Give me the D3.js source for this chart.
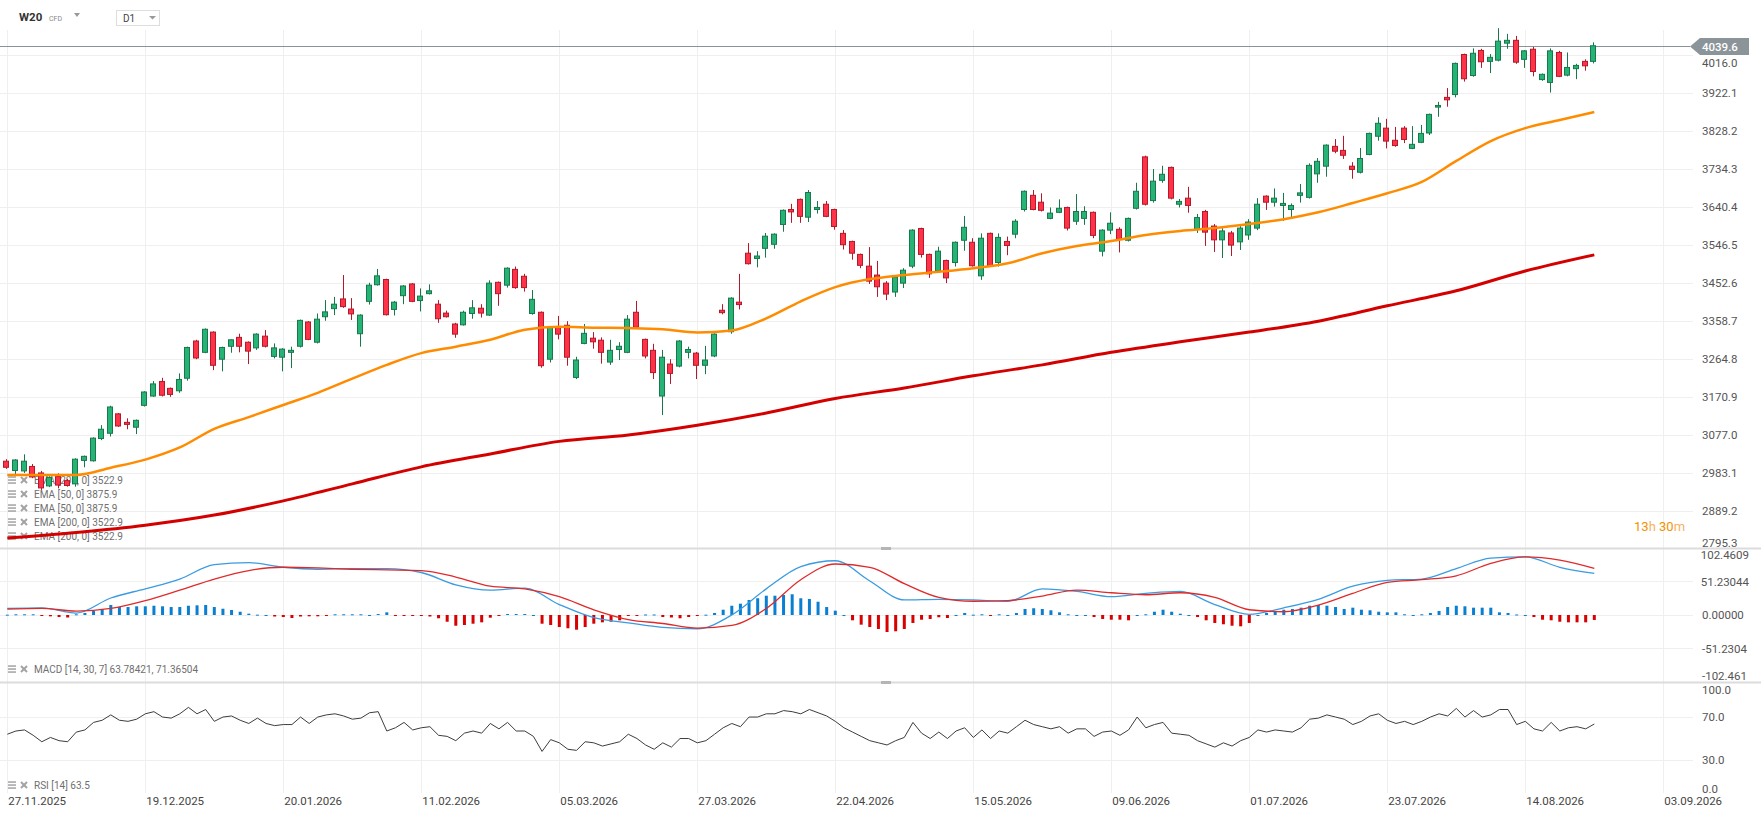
<!DOCTYPE html>
<html>
<head>
<meta charset="utf-8">
<script src="https://cdn.jsdelivr.net/npm/d3@7"></script>
<style>
  html, body { margin: 0; padding: 0; background: #fff; }
  svg { display: block; font-family: Roboto, "Noto Sans", sans-serif; }
</style>
</head>
<body>
<svg id="chart"></svg>
<script>
// W20 CFD, daily candles 27.11.2025 - 26.08.2026
const open = [
  3013,2990,2989,3000,2984,2952,2975,2965,2957,3015,
  3014,3069,3082,3130,3109,3097,3151,3174,3210,3193,
  3187,3218,3310,3282,3332,3265,3297,3319,3307,3293,
  3322,3272,3270,3282,3297,3357,3307,3370,3390,3414,
  3389,3328,3408,3449,3462,3388,3422,3451,3410,3427,
  3401,3379,3352,3350,3378,3391,3374,3455,3448,3487,
  3470,3378,3381,3265,3345,3349,3220,3304,3317,3312,
  3258,3289,3282,3381,3314,3287,3174,3253,3248,3282,
  3280,3250,3273,3386,3333,3406,3527,3514,3539,3549,
  3598,3635,3660,3616,3635,3648,3635,3576,3556,3524,
  3495,3473,3453,3431,3453,3495,3588,3524,3483,3509,
  3504,3559,3554,3471,3576,3504,3556,3574,3635,3670,
  3653,3613,3628,3640,3606,3613,3628,3532,3584,3586,
  3559,3638,3765,3657,3707,3739,3648,3663,3587,3630,
  3594,3560,3577,3555,3572,3589,3668,3653,3645,3635,
  3670,3665,3723,3742,3791,3781,3742,3727,3771,3816,
  3836,3806,3836,3786,3801,3824,3888,3912,3919,4018,
  3966,4028,4001,4004,4046,4053,4006,4031,3956,3949,
  4023,3967,3983,4001,4001
];
const high = [
  3018,3018,3030,3006,2989,2976,2983,2969,3020,3027,
  3072,3102,3150,3132,3119,3116,3186,3211,3219,3195,
  3230,3296,3313,3341,3334,3296,3314,3328,3309,3329,
  3337,3304,3292,3296,3363,3359,3378,3411,3419,3473,
  3416,3376,3454,3488,3464,3409,3448,3453,3440,3450,
  3411,3385,3355,3385,3411,3401,3460,3457,3492,3494,
  3476,3436,3383,3347,3372,3359,3271,3352,3332,3319,
  3313,3307,3374,3409,3316,3303,3288,3265,3312,3296,
  3283,3298,3329,3401,3418,3476,3552,3532,3577,3576,
  3635,3649,3662,3683,3656,3656,3637,3584,3558,3526,
  3542,3508,3458,3471,3490,3586,3590,3526,3543,3511,
  3556,3619,3564,3576,3578,3576,3568,3611,3682,3683,
  3675,3640,3660,3642,3673,3643,3630,3586,3628,3591,
  3615,3701,3768,3735,3743,3741,3661,3691,3624,3634,
  3599,3589,3582,3594,3611,3663,3670,3687,3676,3650,
  3698,3749,3762,3796,3809,3817,3752,3787,3825,3863,
  3859,3839,3841,3841,3844,3872,3901,3935,3998,4020,
  4033,4032,4019,4083,4069,4064,4029,4037,3971,4033,
  4027,4023,3995,4006,4048
];
const low = [
  2994,2981,2984,2971,2942,2949,2946,2950,2950,2998,
  3012,3065,3074,3098,3092,3080,3148,3172,3173,3172,
  3182,3212,3265,3280,3238,3235,3281,3282,3253,3288,
  3294,3267,3235,3243,3294,3312,3304,3360,3374,3392,
  3362,3296,3400,3447,3373,3373,3401,3406,3383,3425,
  3355,3368,3318,3348,3365,3368,3372,3397,3442,3439,
  3432,3375,3244,3257,3314,3249,3216,3302,3291,3254,
  3251,3263,3280,3341,3267,3216,3127,3204,3245,3267,
  3216,3228,3270,3376,3328,3388,3499,3492,3516,3538,
  3580,3602,3602,3604,3625,3616,3585,3536,3511,3490,
  3451,3419,3411,3419,3441,3490,3516,3466,3480,3453,
  3494,3533,3494,3461,3494,3494,3522,3564,3630,3633,
  3630,3611,3626,3583,3597,3597,3564,3519,3574,3529,
  3556,3635,3645,3652,3701,3660,3640,3627,3577,3545,
  3530,3515,3520,3535,3560,3584,3634,3642,3607,3614,
  3652,3662,3701,3716,3774,3760,3711,3724,3769,3805,
  3786,3790,3799,3784,3799,3819,3864,3889,3912,3951,
  3963,3985,3972,4001,4032,3995,3985,3964,3953,3924,
  3962,3964,3957,3978,3996
];
const close = [
  2998,3016,3013,2974,2947,2973,2954,2953,3018,3025,
  3070,3092,3147,3100,3104,3114,3184,3204,3176,3178,
  3215,3294,3268,3339,3250,3294,3313,3297,3285,3327,
  3297,3293,3290,3287,3361,3314,3364,3382,3401,3395,
  3377,3374,3448,3471,3375,3406,3446,3408,3421,3434,
  3365,3370,3327,3381,3392,3379,3453,3427,3490,3442,
  3442,3413,3249,3345,3327,3270,3263,3329,3308,3282,
  3287,3297,3364,3344,3273,3232,3270,3230,3310,3289,
  3250,3263,3327,3380,3416,3400,3501,3520,3569,3574,
  3633,3629,3618,3677,3640,3618,3593,3548,3527,3497,
  3458,3444,3426,3468,3485,3584,3524,3476,3532,3466,
  3554,3591,3496,3564,3496,3566,3546,3606,3680,3635,
  3633,3626,3638,3589,3630,3630,3571,3584,3601,3561,
  3613,3680,3648,3705,3722,3663,3655,3645,3615,3579,
  3560,3582,3547,3589,3604,3648,3653,3663,3650,3645,
  3676,3744,3754,3794,3779,3769,3734,3761,3823,3848,
  3804,3793,3808,3796,3823,3870,3892,3906,3996,3958,
  4021,4000,4011,4051,4053,3999,4027,3976,3969,4027,
  3964,3986,3991,3990,4039.6
];

// EMA 50, one value every 4 candles
const ema50Step = 4;
const ema50 = [
  2979,2979,2979,2997,3017,3047,3093,3122,3152,3182,
  3217,3251,3280,3296,3313,3338,3345,3343,3342,3339,
  3331,3336,3366,3408,3443,3463,3473,3481,3490,3502,
  3527,3545,3557,3572,3582,3589,3599,3611,3628,3651,
  3675,3703,3755,3804,3836,3856,3875.9
];
// EMA 200, one value every 8 candles
const ema200Step = 8;
const ema200 = [
  2823,2837,2855,2880,2915,2957,2999,3031,3062,3078,
  3102,3132,3168,3194,3224,3251,3282,3308,3332,3359,
  3397,3434,3483,3522.9
];

// MACD [14, 30, 7], lines every 4 candles, histogram per candle
const macdStep = 4;
const macdLine = [
  10,11,3,26,40,55,77,80,73,70,
  71,71,65,46,38,41,16,-4,-12,-19,
  -21,0,40,74,83,52,23,24,23,21,
  40,36,28,33,36,16,1,11,24,44,
  53,55,71,87,89,73,63.78
];
const signalLine = [
  9,10,6,10,22,38,55,68,73,72,
  70,69,68,58,44,40,28,8,-7,-13,
  -20,-16,10,54,78,73,48,27,21,22,
  29,38,34,31,34,27,8,5,15,33,
  50,54,60,79,89,84,71.37
];
const macdHist = [
  0.5,1.1,1.1,1.1,-1.1,-2.0,-3.1,-3.8,1.1,3.1,
  6.1,9.2,15.3,12.2,12.2,13.3,13.3,14.2,13.3,12.2,
  12.2,14.2,14.8,15.3,12.2,9.6,7.7,5.0,2.0,0.5,
  0,-2.3,-3.1,-4.6,-2.3,-2.0,-2.0,-1.5,1.1,1.1,
  1.1,1.1,0,1.5,4.1,-1.1,-1.1,-1.5,-1.5,-2.3,
  -5.0,-10.3,-16.4,-15.3,-13.3,-11.2,-4.1,-1.1,1.5,1.5,
  1.5,0,-13.3,-15.3,-18.4,-20.3,-22.5,-18.4,-13.3,-11.2,
  -10.3,-8.1,-1.5,-1.1,0.8,0.8,-3.1,-3.8,-5.0,-3.1,
  -1.1,0.5,3.1,8.1,14.2,17.3,23.0,25.6,29.5,29.5,
  30.6,31.7,25.6,24.5,20.3,12.2,6.6,0,-8.1,-14.8,
  -18.4,-21.4,-26.0,-24.9,-21.4,-12.2,-7.2,-6.1,-3.5,-4.6,
  0,3.1,0.5,1.1,-1.1,1.1,0,3.1,9.2,10.3,
  9.2,7.2,4.1,1.1,0,0,-3.1,-6.1,-7.2,-7.2,
  -8.1,0,1.1,5.0,8.1,5.0,2.0,0,-3.1,-8.1,
  -12.2,-14.2,-16.4,-17.3,-12.2,0,3.1,5.0,8.1,9.2,
  11.2,14.2,15.3,14.2,12.2,9.2,11.2,8.1,7.2,5.0,
  4.1,4.1,1.1,0,1.1,3.1,6.1,12.2,14.2,13.3,
  11.2,11.2,11.2,4.1,3.1,0.8,0,-3.1,-7.2,-8.1,
  -10.3,-11.2,-11.2,-11.2,-7.6
];

// RSI [14] per candle
const rsi = [
  54,57,58,53,47,51,48,47,56,58,
  65,67,72,67,66,68,73,75,70,69,
  73,79,73,77,66,70,71,67,64,69,
  64,62,63,63,70,64,70,72,73,71,
  68,69,74,75,57,60,65,58,60,61,
  53,52,48,55,57,55,64,59,65,57,
  57,52,38,49,46,40,39,47,46,43,
  45,47,54,50,44,40,46,42,50,50,
  46,48,54,60,64,61,70,70,73,73,
  76,75,73,77,74,71,66,60,56,52,
  48,46,44,48,51,65,55,50,56,50,
  57,60,51,58,50,57,55,61,67,63,
  61,59,61,55,59,59,52,56,57,53,
  58,70,60,63,65,55,54,53,48,45,
  42,46,43,48,51,58,56,58,57,56,
  60,68,69,72,70,68,63,66,71,73,
  67,64,66,63,66,70,73,71,78,70,
  76,70,72,77,77,63,66,59,57,65,
  57,60,61,59,63.5
];

// axis ticks
const dateTicks = ["27.11.2025","19.12.2025","20.01.2026","11.02.2026","05.03.2026","27.03.2026",
  "22.04.2026","15.05.2026","09.06.2026","01.07.2026","23.07.2026","14.08.2026","03.09.2026"];
const dateTickStep = 16;
const priceTicks = [2795.3,2889.2,2983.1,3077.0,3170.9,3264.8,3358.7,3452.6,3546.5,3640.4,3734.3,3828.2,3922.1,4016.0];
const macdTicks = [-102.461,-51.2304,0,51.23044,102.4609];
const macdTickText = ["-102.461","-51.2304","0.00000","51.23044","102.4609"];
const rsiTicks = [0,30,70,100];

const lastPrice = 4039.6;
const emaLabels = ["EMA [200, 0] 3522.9","EMA [50, 0] 3875.9","EMA [50, 0] 3875.9","EMA [200, 0] 3522.9","EMA [200, 0] 3522.9"];

// ---------------------------------------------------------------
const width = 1761, height = 820;
const plotRight = 1693;
const MAIN = { top: 55.3, bottom: 549.3 };
const MACD = { top: 548, bottom: 682 };
const RSI = { top: 682, bottom: 792 };

const svg = d3.select("#chart").attr("width", width).attr("height", height);

const x = d3.scaleLinear().domain([0, 192]).range([7.3, 1663.3]);
const y = d3.scaleLinear().domain([2795.3, 4016.0]).range([MAIN.bottom, MAIN.top]);
const yM = d3.scaleLinear().domain([-102.461, 102.4609]).range([MACD.bottom, MACD.top]);
const yR = d3.scaleLinear().domain([0, 100]).range([792.25, 684.8]);

const gridColor = "#efefef";
const grid = svg.append("g");

// vertical grid
dateTicks.forEach((d, k) => {
  const gx = Math.round(x(k * dateTickStep)) + 0.5;
  grid.append("line").attr("x1", gx).attr("x2", gx).attr("y1", 30).attr("y2", 793)
    .attr("stroke", gridColor);
});
// horizontal grid
priceTicks.slice(1).forEach(v => {
  const gy = Math.round(y(v)) + 0.5;
  grid.append("line").attr("x1", 0).attr("x2", plotRight).attr("y1", gy).attr("y2", gy).attr("stroke", gridColor);
});
[-51.2304, 0, 51.23044].forEach(v => {
  const gy = Math.round(yM(v)) + 0.5;
  grid.append("line").attr("x1", 0).attr("x2", plotRight).attr("y1", gy).attr("y2", gy).attr("stroke", gridColor);
});
[30, 70].forEach(v => {
  const gy = Math.round(yR(v)) + 0.5;
  grid.append("line").attr("x1", 0).attr("x2", plotRight).attr("y1", gy).attr("y2", gy).attr("stroke", gridColor);
});

// panel separators
[MACD.top, MACD.bottom].forEach(sy => {
  svg.append("line").attr("x1", 0).attr("x2", width).attr("y1", sy + 0.5).attr("y2", sy + 0.5)
    .attr("stroke", "#dcdcdc").attr("stroke-width", 2);
  svg.append("rect").attr("x", 881).attr("y", sy - 1).attr("width", 10).attr("height", 3).attr("fill", "#b5b5b5");
});

// legend rows (icon + text), drawn under the series
function legendRow(ly, label) {
  const g = svg.append("g").attr("transform", `translate(0,${ly})`);
  [-3, 0, 3].forEach(dy => g.append("rect").attr("x", 8).attr("y", dy - 0.7).attr("width", 8).attr("height", 1.5).attr("fill", "#a3a3a3"));
  g.append("line").attr("x1", 21).attr("y1", -3).attr("x2", 27).attr("y2", 3).attr("stroke", "#a3a3a3").attr("stroke-width", 2);
  g.append("line").attr("x1", 27).attr("y1", -3).attr("x2", 21).attr("y2", 3).attr("stroke", "#a3a3a3").attr("stroke-width", 2);
  g.append("text").attr("x", 34).attr("y", 0).attr("dy", "0.35em")
    .attr("font-size", 10).attr("fill", "#6f6f6f").text(label);
}
emaLabels.forEach((t, k) => legendRow(480 + k * 14, t));
legendRow(669, "MACD [14, 30, 7] 63.78421, 71.36504");
legendRow(785, "RSI [14] 63.5");

// last price line
const py = Math.round(y(lastPrice)) + 0.5;
svg.append("line").attr("x1", 0).attr("x2", 1690).attr("y1", py).attr("y2", py)
  .attr("stroke", "#8a9397").attr("stroke-width", 1);

// candles
const up = { fill: "#27b376", stroke: "#17784c" };
const down = { fill: "#ff3347", stroke: "#b3192b" };
const candles = svg.append("g");
open.forEach((o, i) => {
  const c = close[i];
  const col = c >= o ? up : down;
  const cx = Math.round(x(i));
  candles.append("line")
    .attr("x1", cx - 0.5).attr("x2", cx - 0.5)
    .attr("y1", y(high[i])).attr("y2", y(low[i]))
    .attr("stroke", col.stroke).attr("stroke-width", 1);
  const top = y(Math.max(o, c)), bot = y(Math.min(o, c));
  candles.append("rect")
    .attr("x", cx - 3.5).attr("width", 5)
    .attr("y", top).attr("height", Math.max(1, bot - top))
    .attr("fill", col.fill).attr("stroke", col.stroke).attr("stroke-width", 1);
});

// EMA lines
const emaLine = step => d3.line().x((d, k) => x(k * step)).y(d => y(d)).curve(d3.curveMonotoneX);
svg.append("path").datum(ema200).attr("d", emaLine(ema200Step))
  .attr("fill", "none").attr("stroke", "#d40000").attr("stroke-width", 3);
svg.append("path").datum(ema50).attr("d", emaLine(ema50Step))
  .attr("fill", "none").attr("stroke", "#ff8c00").attr("stroke-width", 2.5);

// MACD histogram
svg.append("g").selectAll("rect").data(macdHist).join("rect")
  .attr("x", (d, i) => x(i) - 1.5).attr("width", 3)
  .attr("y", d => Math.min(yM(d), yM(0)))
  .attr("height", d => Math.max(1, Math.abs(yM(d) - yM(0))))
  .attr("fill", d => d >= 0 ? "#0a7fd2" : "#d80000");

const macdPath = d3.line().x((d, k) => x(k * macdStep)).y(d => yM(d)).curve(d3.curveMonotoneX);
svg.append("path").datum(macdLine).attr("d", macdPath)
  .attr("fill", "none").attr("stroke", "#3a9be0").attr("stroke-width", 1.3);
svg.append("path").datum(signalLine).attr("d", macdPath)
  .attr("fill", "none").attr("stroke", "#e02a2a").attr("stroke-width", 1.3);

// RSI
svg.append("path").datum(rsi)
  .attr("d", d3.line().x((d, i) => x(i)).y(d => yR(d)))
  .attr("fill", "none").attr("stroke", "#3d3d3d").attr("stroke-width", 1);

// right axes
const axisText = "#555";
function axisLabel(v, text, scale, panel) {
  let ty = scale(v);
  ty = Math.max(panel.top + 7, Math.min(panel.bottom - 6, ty));
  const t = svg.append("text").attr("x", 1702).attr("y", ty).attr("dy", "0.35em")
    .attr("font-size", 11.5).attr("fill", axisText).text(text);
  const w = t.node().getComputedTextLength();
  if (1702 + w > 1749) t.attr("x", 1749 - w);
}
// top bound keeps 4016.0 just below the last-price tag
priceTicks.forEach(v => axisLabel(v, v.toFixed(1), y, { top: 56, bottom: 549 }));
macdTicks.forEach((v, k) => axisLabel(v, macdTickText[k], yM, MACD));
rsiTicks.forEach(v => axisLabel(v, v.toFixed(1), yR, { top: 683, bottom: 795 }));

// last price tag
svg.append("path")
  .attr("d", `M1690,${py} L1700,38 L1749,38 L1749,55 L1700,55 Z`)
  .attr("fill", "#8b9498");
svg.append("text").attr("x", 1702).attr("y", py).attr("dy", "0.35em")
  .attr("font-size", 11.5).attr("font-weight", 500).attr("fill", "#fff").text(lastPrice.toFixed(1));

// countdown
const cd = svg.append("text").attr("x", 1634).attr("y", 531).attr("font-size", 13);
cd.append("tspan").attr("fill", "#f39200").text("13");
cd.append("tspan").attr("fill", "#f7b15f").text("h ");
cd.append("tspan").attr("fill", "#f39200").text("30");
cd.append("tspan").attr("fill", "#f7b15f").text("m");

// date axis
dateTicks.forEach((d, k) => {
  svg.append("text").attr("x", x(k * dateTickStep) + 1).attr("y", 805)
    .attr("font-size", 11.5).attr("fill", "#444").text(d);
});

// header
svg.append("text").attr("x", 19).attr("y", 21).attr("font-size", 11.5).attr("font-weight", 700)
  .attr("fill", "#333").text("W20");
svg.append("text").attr("x", 49).attr("y", 21).attr("font-size", 7).attr("fill", "#888").text("CFD");
svg.append("path").attr("d", "M74,13 L80,13 L77,17 Z").attr("fill", "#999");
svg.append("rect").attr("x", 116.5).attr("y", 10.5).attr("width", 43).attr("height", 15)
  .attr("fill", "#fff").attr("stroke", "#dedede");
svg.append("text").attr("x", 123).attr("y", 22).attr("font-size", 10).attr("fill", "#444").text("D1");
svg.append("path").attr("d", "M149,16 L156,16 L152.5,19.5 Z").attr("fill", "#999");
</script>
</body>
</html>
